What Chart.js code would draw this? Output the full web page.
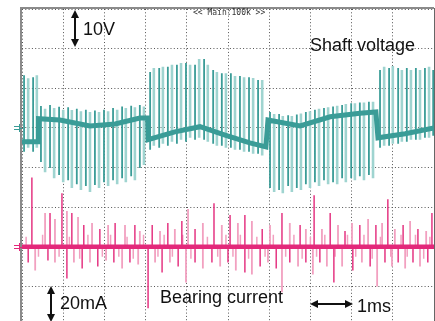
<!DOCTYPE html>
<html>
<head>
<meta charset="utf-8">
<script src="https://cdn.jsdelivr.net/npm/chart.js@4.4.1/dist/chart.umd.min.js"></script>
<style>
  html, body { margin: 0; padding: 0; background: #fff; overflow: hidden; }
  #wrap { position: relative; width: 435px; height: 330px; }
  #scope { position: absolute; left: 0; top: 0; }
  .lbl { position: absolute; font-family: Arial, 'Liberation Sans', sans-serif; font-size: 18px; line-height: 1; color: #111; white-space: nowrap; }
  .tiny { position: absolute; font-family: 'DejaVu Sans Mono', monospace; font-size: 8px; line-height: 1; color: #333; white-space: nowrap; }
</style>
</head>
<body>
<div id="wrap">
  <canvas id="scope" width="435" height="330"></canvas>
  <div class="tiny" style="left:193px; top:9px;">&lt;&lt; Main:100k &gt;&gt;</div>
  <div class="lbl" style="left:83px; top:20px;">10V</div>
  <div class="lbl" style="left:310px; top:36px;">Shaft voltage</div>
  <div class="lbl" style="left:60px; top:294px;">20mA</div>
  <div class="lbl" style="left:160px; top:288px;">Bearing current</div>
  <div class="lbl" style="left:357px; top:297px;">1ms</div>
</div>
<script>
// Echelles de l'oscillo : 10 div x 1ms, 8 div verticales
const voltsPerDiv = 10;
const mAPerDiv = 20;
const shaftGroundDiv = 5;
const bearingGroundDiv = 2;

// Tension d'arbre : niveau moyen (bande epaisse)
const shaftBaseT = [0, 0.39, 0.40, 0.92, 1.65, 2.26, 2.86, 3.05, 3.06, 3.71, 4.32, 4.93, 5.53, 5.92, 5.97, 6.75, 7.48, 8.2, 8.59, 8.64, 9.3, 10];
const shaftBaseV = [-3.5, -3.5, 2.3, 2.0, 0.5, 1.0, 2.5, 2.5, -3.0, -1.0, 0.3, -1.8, -3.8, -4.8, 2.0, 0.5, 2.8, 3.7, 4.0, -2.5, -1.5, 0];

// Impulsions de commutation : instant, crete, retour
const shaftPulseT = [
  0.05, 0.15, 0.27, 0.36,
  0.46, 0.56, 0.68, 0.78, 0.90, 1.00, 1.12, 1.21, 1.33, 1.43, 1.55, 1.65, 1.77, 1.87, 1.99, 2.09, 2.21, 2.31, 2.43, 2.52, 2.65, 2.74, 2.86, 2.96,
  3.11, 3.20, 3.33, 3.42, 3.54, 3.64, 3.76, 3.86, 3.98, 4.08, 4.20, 4.30, 4.42, 4.51, 4.64, 4.73, 4.85, 4.95, 5.07, 5.17, 5.29, 5.39, 5.51, 5.61, 5.73, 5.83,
  6.02, 6.12, 6.24, 6.33, 6.46, 6.55, 6.67, 6.77, 6.89, 6.99, 7.11, 7.21, 7.33, 7.43, 7.55, 7.65, 7.77, 7.86, 7.99, 8.08, 8.20, 8.30, 8.42, 8.52,
  8.69, 8.79, 8.91, 9.00, 9.13, 9.22, 9.34, 9.44, 9.56, 9.66, 9.78, 9.88, 9.98
];
const shaftPulseTip = [
  13.3, 12.5, 12.8, 13.3,
  -8.6, -11.2, -10.1, -12.7, -11.9, -13.7, -13.2, -15.2, -14.2, -15.7, -14.7, -16.2, -14.4, -15.2, -13.7, -14.7, -13.2, -14.2, -12.7, -13.7, -12.2, -13.2, -10.1, -9.4,
  14.1, 15.1, 15.1, 15.4, 15.4, 15.9, 15.9, 16.4, 16.4, 15.9, 15.9, 17.4, 17.4, 15.9, 14.6, 14.1, 13.8, 13.8, 13.8, 13.1, 13.1, 12.8, 12.8, 12.6, 12.1, 12.1,
  -15.2, -16.2, -15.7, -16.5, -14.7, -16.2, -15.2, -15.7, -14.2, -15.2, -13.7, -14.7, -13.2, -14.2, -13.7, -14.2, -12.7, -13.7, -12.7, -13.2, -12.2, -13.2, -11.9, -12.7,
  14.6, 15.4, 15.1, 15.6, 15.1, 14.6, 15.1, 14.6, 15.1, 14.6, 15.1, 15.4, 14.6
];
const shaftPulseBack = [
  -6, -5, -6, -5,
  5.5, 4.8, 5.8, 5.0, 5.3, 4.6, 5.2, 4.5, 4.8, 4.2, 4.6, 4.0, 4.4, 4.0, 4.6, 4.2, 5.0, 4.6, 5.4, 5.0, 5.6, 5.2, 5.8, 5.4,
  -5.5, -4.5, -5.0, -4.0, -4.5, -3.5, -4.0, -3.0, -3.5, -2.5, -3.0, -2.5, -3.0, -3.5, -4.0, -4.5, -4.5, -5.0, -5.0, -5.5, -5.5, -6.0, -6.0, -6.5, -6.5, -7.0,
  4.0, 3.5, 3.5, 3.0, 3.2, 3.0, 3.4, 3.6, 4.0, 4.2, 4.6, 4.8, 5.0, 5.2, 5.4, 5.6, 5.8, 6.0, 6.2, 6.2, 6.4, 6.4, 6.6, 6.6,
  -5.0, -4.5, -4.5, -4.0, -4.0, -3.5, -3.5, -3.0, -3.0, -3.0, -2.5, -2.5, -2.0
];

// Courant de roulement : pics positifs, negatifs et bruit de fond (mA)
const bearingUpT = [0.24, 0.56, 0.68, 0.80, 0.97, 1.09, 1.21, 1.36, 1.50, 1.70, 1.89, 2.09, 2.26, 2.50, 2.74, 2.86, 3.16, 3.35, 3.54, 3.71, 3.88, 4.03, 4.20, 4.39, 4.66, 4.85, 5.05, 5.24, 5.41, 5.58, 5.83, 6.02, 6.31, 6.50, 6.75, 6.89, 7.09, 7.28, 7.48, 7.67, 7.84, 8.01, 8.20, 8.40, 8.59, 8.74, 8.88, 9.05, 9.25, 9.42, 9.61, 9.81, 9.95];
const bearingUpMA = [35, 17, 17, 14, 27, 18, 17, 15, 11, 12, 9, 11, 12, 11, 11, 8, 11, 8, 12, 9, 13, 19, 9, 12, 22, 11, 16, 12, 16, 13, 9, 11, 17, 12, 11, 9, 26, 9, 17, 11, 8, 12, 11, 14, 11, 12, 24, 9, 11, 13, 9, 8, 17];
const bearingDownT = [0.15, 0.32, 0.63, 0.80, 1.09, 1.26, 1.46, 1.65, 1.84, 2.04, 2.23, 2.43, 2.62, 2.82, 3.06, 3.23, 3.40, 3.59, 3.79, 3.98, 4.20, 4.39, 4.61, 4.81, 5.00, 5.19, 5.41, 5.58, 5.78, 5.97, 6.17, 6.31, 6.50, 6.70, 6.89, 7.06, 7.23, 7.40, 7.57, 7.77, 8.03, 8.25, 8.45, 8.62, 8.81, 8.98, 9.13, 9.30, 9.49, 9.66, 9.85];
const bearingDownMA = [-8, -12, -7, -8, -16, -8, -11, -8, -10, -7, -8, -11, -8, -9, -31, -8, -13, -8, -10, -18, -8, -11, -8, -10, -8, -12, -13, -14, -10, -8, -11, -23, -8, -10, -8, -14, -8, -10, -18, -10, -12, -8, -10, -20, -8, -10, -8, -11, -8, -10, -8];
const bearingNoiseT = [0.10, 0.40, 0.50, 0.90, 1.15, 1.40, 1.60, 1.95, 2.15, 2.35, 2.55, 2.70, 2.95, 3.30, 3.45, 3.65, 3.90, 4.10, 4.50, 4.75, 4.95, 5.12, 5.30, 5.50, 5.70, 5.90, 6.10, 6.40, 6.60, 6.80, 7.00, 7.15, 7.35, 7.60, 7.90, 8.10, 8.30, 8.50, 8.70, 8.95, 9.20, 9.35, 9.55, 9.75, 9.90];
const bearingNoiseMA = [5, -5, 6, -5, 5, -6, 6, -5, 6, -5, 5, -6, 6, -5, 6, -5, 6, -6, 5, -5, 6, -5, 6, -6, 5, -5, 6, -5, 6, -6, 5, -5, 6, -5, 6, -5, 6, -6, 5, -5, 6, -5, 6, -6, 5];

const tealDark = '#3a9c97';
const tealLight = '#9fd4d0';
const pinkDark = '#e3287a';
const pinkLight = '#f2a0c0';

const shaftDiv = v => shaftGroundDiv + v / voltsPerDiv;
const bearingDiv = ma => bearingGroundDiv + ma / mAPerDiv;

// Segments verticaux separes par des trous (null)
function segments(ts, from, to, conv, parity) {
  const pts = [];
  ts.forEach((t, i) => {
    if (parity !== undefined && i % 2 !== parity) return;
    pts.push({ x: t, y: conv(from(i)) }, { x: t, y: conv(to(i)) }, { x: t, y: null });
  });
  return pts;
}

function traceSet(data, color, width, order) {
  return { data, borderColor: color, borderWidth: width, pointRadius: 0, spanGaps: false, tension: 0, order };
}

const shaftBase = shaftBaseT.map((t, i) => ({ x: t, y: shaftDiv(shaftBaseV[i]) }));
const bearingBase = [{ x: 0, y: bearingDiv(0) }, { x: 10, y: bearingDiv(0) }];

const datasets = [
  traceSet(segments(shaftPulseT, i => shaftPulseBack[i], i => shaftPulseTip[i], shaftDiv, 1), tealLight, 2.6, 9),
  traceSet(segments(shaftPulseT, i => shaftPulseBack[i], i => shaftPulseTip[i], shaftDiv, 0), tealDark, 1.8, 8),
  traceSet(shaftBase, tealDark, 5, 7),
  traceSet(segments(bearingNoiseT, () => 0, i => bearingNoiseMA[i], bearingDiv), pinkLight, 1.5, 6),
  traceSet(segments(bearingUpT, () => 0, i => bearingUpMA[i], bearingDiv, 1), pinkLight, 1.8, 5),
  traceSet(segments(bearingDownT, () => 0, i => bearingDownMA[i], bearingDiv, 1), pinkLight, 1.8, 5),
  traceSet(segments(bearingUpT, () => 0, i => bearingUpMA[i], bearingDiv, 0), pinkDark, 1.4, 4),
  traceSet(segments(bearingDownT, () => 0, i => bearingDownMA[i], bearingDiv, 0), pinkDark, 1.4, 4),
  traceSet(bearingBase, pinkDark, 4.5, 3)
];

// Cadre, reperes de masse et fleches d'echelle
function arrowHead(ctx, x, y, dx, dy) {
  const L = 8, W = 4;
  ctx.beginPath();
  ctx.moveTo(x, y);
  ctx.lineTo(x - dx * L - dy * W, y - dy * L + dx * W);
  ctx.lineTo(x - dx * L + dy * W, y - dy * L - dx * W);
  ctx.closePath();
  ctx.fill();
}
function doubleArrow(ctx, x1, y1, x2, y2) {
  const len = Math.hypot(x2 - x1, y2 - y1);
  const dx = (x2 - x1) / len, dy = (y2 - y1) / len;
  ctx.beginPath();
  ctx.moveTo(x1 + dx * 6, y1 + dy * 6);
  ctx.lineTo(x2 - dx * 6, y2 - dy * 6);
  ctx.stroke();
  arrowHead(ctx, x2, y2, dx, dy);
  arrowHead(ctx, x1, y1, -dx, -dy);
}
function groundMark(ctx, y, color) {
  ctx.strokeStyle = color;
  ctx.lineWidth = 1;
  ctx.beginPath();
  ctx.moveTo(19.5, y - 4); ctx.lineTo(19.5, y + 4);
  ctx.moveTo(19.5, y + 0.5); ctx.lineTo(22, y + 0.5);
  ctx.moveTo(14, y - 1.5); ctx.lineTo(19, y - 1.5);
  ctx.moveTo(14, y + 1.5); ctx.lineTo(19, y + 1.5);
  ctx.stroke();
}

const scopeFrame = {
  id: 'scopeFrame',
  beforeDatasetsDraw(chart) {
    const { ctx, chartArea: a } = chart;
    ctx.save();
    ctx.strokeStyle = '#8a8a8a';
    ctx.lineWidth = 2;
    ctx.beginPath();
    ctx.moveTo(a.left - 1, a.bottom + 5);
    ctx.lineTo(a.left - 1, a.top - 1);
    ctx.lineTo(a.right, a.top - 1);
    ctx.stroke();
    ctx.strokeStyle = '#666';
    ctx.lineWidth = 1;
    ctx.beginPath();
    ctx.moveTo(a.right + 0.5, a.top - 1);
    ctx.lineTo(a.right + 0.5, a.bottom);
    ctx.stroke();
    ctx.restore();
  },
  afterDraw(chart) {
    const { ctx, scales } = chart;
    ctx.save();
    groundMark(ctx, Math.round(scales.y.getPixelForValue(shaftGroundDiv)), tealDark);
    groundMark(ctx, Math.round(scales.y.getPixelForValue(bearingGroundDiv)), pinkDark);
    ctx.strokeStyle = '#111';
    ctx.fillStyle = '#111';
    ctx.lineWidth = 2;
    doubleArrow(ctx, 75, 10, 75, 47);
    doubleArrow(ctx, 51, 286, 51, 322);
    doubleArrow(ctx, 310, 304, 353, 304);
    ctx.restore();
  }
};

new Chart(document.getElementById('scope'), {
  type: 'line',
  data: { datasets },
  options: {
    responsive: false,
    animation: false,
    events: [],
    parsing: true,
    layout: { padding: { left: 22, top: 9, right: 1, bottom: 4 } },
    plugins: { legend: { display: false }, tooltip: { enabled: false } },
    scales: {
      x: {
        type: 'linear', min: 0, max: 10,
        ticks: { display: false, stepSize: 1 },
        grid: { color: '#555', lineWidth: 1, drawTicks: false },
        border: { display: false, dash: [1, 2.3] }
      },
      y: {
        type: 'linear', min: 0, max: 8,
        ticks: { display: false, stepSize: 1 },
        grid: { color: '#555', lineWidth: 1, drawTicks: false },
        border: { display: false, dash: [1, 2.3] }
      }
    }
  },
  plugins: [scopeFrame]
});
</script>
</body>
</html>
